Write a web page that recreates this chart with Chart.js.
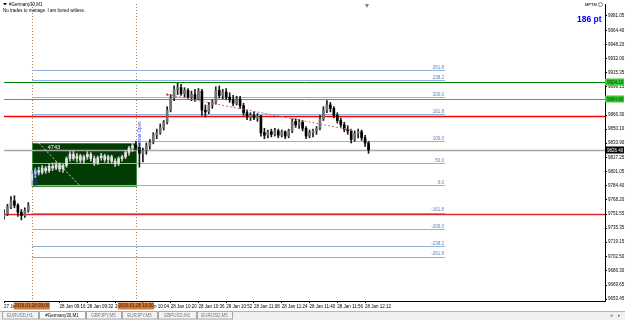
<!DOCTYPE html>
<html>
<head>
<meta charset="utf-8">
<script src="https://cdn.jsdelivr.net/npm/chart.js@4.4.0/dist/chart.umd.min.js"></script>
<style>
  html, body { margin: 0; padding: 0; background: #fff; }
  canvas { display: block; }
</style>
</head>
<body>
<canvas id="chart" width="625" height="320"></canvas>
<script>
// 2-minute candles, index 0-7 = 27 Jan evening, index 8 = 28 Jan 09:00
const candleOpen = [
  9749, 9752, 9760, 9767, 9762, 9754, 9750, 9756,
  9791, 9798, 9802, 9800, 9805, 9802, 9807, 9805, 9809, 9804,
  9808, 9816, 9821, 9816, 9819, 9814, 9818, 9821, 9816, 9811,
  9817, 9819, 9815, 9818, 9813, 9810, 9816, 9818, 9823, 9828,
  9831, 9829, 9822, 9825, 9831, 9835, 9843, 9846, 9852, 9858,
  9872, 9886, 9896, 9898, 9891, 9895, 9887, 9890, 9885, 9894,
  9872, 9870, 9878, 9881, 9895, 9889, 9893, 9887, 9884, 9880,
  9885, 9877, 9869, 9864, 9866, 9863, 9865, 9846, 9843, 9847,
  9844, 9848, 9843, 9847, 9842, 9848, 9859, 9855, 9858, 9851,
  9842, 9846, 9848, 9851, 9862, 9872, 9878, 9874, 9866, 9860,
  9855, 9850, 9848, 9838, 9845, 9847, 9840, 9834
];
const candleHigh = [
  9757, 9763, 9772, 9773, 9764, 9757, 9759, 9765,
  9802, 9805, 9806, 9808, 9807, 9810, 9811, 9812, 9811, 9810,
  9818, 9824, 9825, 9822, 9821, 9820, 9824, 9823, 9819, 9819,
  9822, 9821, 9820, 9820, 9816, 9818, 9820, 9825, 9830, 9834,
  9836, 9834, 9828, 9834, 9838, 9846, 9850, 9856, 9860, 9876,
  9890, 9900, 9903, 9902, 9898, 9897, 9894, 9896, 9897, 9896,
  9878, 9881, 9884, 9899, 9900, 9896, 9897, 9892, 9889, 9888,
  9888, 9880, 9872, 9869, 9870, 9868, 9866, 9851, 9849, 9850,
  9851, 9850, 9849, 9848, 9850, 9862, 9862, 9861, 9860, 9853,
  9849, 9850, 9853, 9866, 9876, 9883, 9881, 9876, 9869, 9863,
  9858, 9854, 9850, 9848, 9850, 9849, 9843, 9836
];
const candleLow = [
  9746, 9750, 9758, 9759, 9749, 9745, 9748, 9754,
  9784, 9794, 9797, 9798, 9799, 9800, 9802, 9803, 9801, 9800,
  9806, 9813, 9814, 9812, 9811, 9810, 9815, 9813, 9808, 9809,
  9814, 9812, 9811, 9810, 9807, 9808, 9813, 9816, 9820, 9824,
  9826, 9806, 9812, 9821, 9827, 9833, 9839, 9844, 9849, 9856,
  9870, 9883, 9890, 9889, 9887, 9885, 9883, 9882, 9884, 9866,
  9864, 9868, 9874, 9879, 9886, 9885, 9884, 9881, 9877, 9878,
  9874, 9866, 9861, 9860, 9861, 9859, 9842, 9839, 9840, 9841,
  9842, 9840, 9841, 9839, 9840, 9846, 9852, 9851, 9848, 9839,
  9840, 9841, 9844, 9849, 9860, 9869, 9870, 9863, 9857, 9852,
  9847, 9844, 9834, 9836, 9840, 9837, 9830, 9822
];
const candleClose = [
  9752, 9760, 9767, 9762, 9754, 9750, 9756, 9762,
  9798, 9802, 9800, 9805, 9802, 9807, 9805, 9809, 9804, 9808,
  9816, 9821, 9816, 9819, 9814, 9818, 9821, 9816, 9811, 9817,
  9819, 9815, 9818, 9813, 9810, 9816, 9818, 9823, 9828, 9831,
  9829, 9822, 9825, 9831, 9835, 9843, 9846, 9852, 9858, 9872,
  9886, 9896, 9898, 9891, 9895, 9887, 9890, 9885, 9894, 9872,
  9870, 9878, 9881, 9895, 9889, 9893, 9887, 9884, 9880, 9885,
  9877, 9869, 9864, 9866, 9863, 9865, 9846, 9843, 9847, 9844,
  9848, 9843, 9847, 9842, 9848, 9859, 9855, 9858, 9851, 9842,
  9846, 9848, 9851, 9862, 9872, 9878, 9874, 9866, 9860, 9855,
  9850, 9848, 9838, 9845, 9847, 9840, 9834, 9826
];

const xTickIdx = [0, 16, 24, 32, 40, 48, 56, 64, 72, 80, 88, 96, 104];
const xTickText = ['27 Jan 21:44', '28 Jan 09:16', '28 Jan 09:32', '28 Jan 09:48', '28 Jan 10:04',
  '28 Jan 10:20', '28 Jan 10:36', '28 Jan 10:52', '28 Jan 11:08', '28 Jan 11:24',
  '28 Jan 11:40', '28 Jan 11:56', '28 Jan 12:12'];
const yTickValues = [9981.05, 9964.40, 9948.20, 9932.00, 9915.35, 9899.15, 9882.95, 9866.30,
  9850.10, 9833.90, 9817.25, 9801.05, 9784.40, 9768.20, 9751.55, 9735.35, 9719.15,
  9702.50, 9686.30, 9669.65, 9653.45];

const fibPrices = [9918.5, 9906.5, 9887, 9867.5, 9836, 9810.5, 9785, 9753.5, 9734, 9714.5, 9702.5];
const fibLabels = ['261.8', '238.2', '200.0', '161.8', '100.0', '50.0', '0.0', '-161.8', '-200.0', '-238.2', '-261.8'];
const fibFrom = 8, fibTo = 127;

const levelPrices = [9904.1, 9884.8, 9865.35, 9751.95, 9826.4];
const levelColors = ['#008000', '#19c819', '#ff0000', '#e02828', '#a6a6a6'];
const levelWidths = [1, 1, 1.5, 1.5, 1.5];

const tagPrices = [9904.1, 9884.8, 9826.4];
const tagColors = ['#33cc33', '#33cc33', '#000000'];

const sessionIdx = [8, 38];
const sessionText = ['2016.01.28 09:00', '2016.01.28 10:00'];
const sessionNames = ['EU Open', 'German Open'];

const boxFrom = 8, boxTo = 38, boxTop = 9834, boxBottom = 9784, boxText = '4743';
const trendLine = [{ x: 47, y: 9890 }, { x: 100, y: 9849 }];
const boxDiagonal = [{ x: 10, y: 9834 }, { x: 22, y: 9784 }];

const tabNames = ['EURUSD,H1', '#Germany30,M1', 'GBPJPY,M5', 'EURJPY,M5', 'GBPUSD,M1', 'EURUSD,M5'];

const FONT = 'Liberation Sans';
Chart.defaults.font.family = FONT;
const inBox = i => i >= boxFrom && i < boxTo;

const decor = {
  id: 'decor',
  beforeDatasetsDraw(chart) {
    const { ctx, chartArea: a, scales: { x, y } } = chart;
    const X = v => x.getPixelForValue(v);
    const Y = v => Math.round(y.getPixelForValue(v)) + 0.5;
    ctx.save();
    ctx.beginPath();
    ctx.rect(a.left, a.top, a.right - a.left, a.bottom - a.top);
    ctx.clip();
    // session separators
    ctx.lineWidth = 1;
    ctx.strokeStyle = '#b9825a';
    ctx.setLineDash([1, 2]);
    sessionIdx.forEach(i => {
      const px = Math.round(X(i)) + 0.5;
      ctx.beginPath(); ctx.moveTo(px, a.top); ctx.lineTo(px, a.bottom); ctx.stroke();
    });
    ctx.setLineDash([]);
    // opening range box
    const bx0 = Math.round(X(boxFrom)), bx1 = Math.round(X(boxTo));
    const by0 = Math.round(y.getPixelForValue(boxTop)), by1 = Math.round(y.getPixelForValue(boxBottom));
    ctx.fillStyle = '#033d03';
    ctx.fillRect(bx0, by0, bx1 - bx0, by1 - by0);
    ctx.strokeStyle = '#3c8a3c';
    ctx.strokeRect(bx0 + 0.5, by0 + 0.5, bx1 - bx0, by1 - by0);
    // fibo levels
    ctx.strokeStyle = '#8fb4de';
    fibPrices.forEach(p => {
      const py = Y(p);
      ctx.beginPath(); ctx.moveTo(X(fibFrom), py); ctx.lineTo(X(fibTo), py); ctx.stroke();
    });
    // horizontal lines
    levelPrices.forEach((p, k) => {
      ctx.strokeStyle = levelColors[k];
      ctx.lineWidth = levelWidths[k];
      const py = Y(p);
      ctx.beginPath(); ctx.moveTo(a.left, py); ctx.lineTo(a.right, py); ctx.stroke();
    });
    ctx.restore();
  },
  afterDraw(chart) {
    const { ctx, chartArea: a, scales: { x, y } } = chart;
    const X = v => x.getPixelForValue(v);
    const W = chart.width, H = chart.height;
    ctx.save();
    ctx.textBaseline = 'middle';
    // fibo labels
    ctx.font = `4.5px "${FONT}"`;
    ctx.fillStyle = '#5b7fb8';
    ctx.textAlign = 'right';
    fibPrices.forEach((p, k) => {
      ctx.fillText(fibLabels[k], X(fibTo) - 1, y.getPixelForValue(p) - 2.5);
    });
    // box label
    ctx.textAlign = 'left';
    ctx.fillStyle = '#ffffff';
    ctx.font = `5.5px "${FONT}"`;
    ctx.fillText(boxText, X(boxFrom) + 16, y.getPixelForValue(boxTop) + 4);
    // rotated session names
    ctx.fillStyle = '#2f4fff';
    ctx.font = `4.5px "${FONT}"`;
    [[0, 186], [1, 150]].forEach(([k, py]) => {
      ctx.save();
      ctx.translate(X(sessionIdx[k]) + 3.5, py);
      ctx.rotate(-Math.PI / 2);
      ctx.textAlign = 'left';
      ctx.fillText(sessionNames[k], 0, 0);
      ctx.restore();
    });
    // chart title / comment
    ctx.fillStyle = '#000';
    ctx.beginPath(); ctx.moveTo(3, 3); ctx.lineTo(7, 3); ctx.lineTo(5, 5.5); ctx.closePath(); ctx.fill();
    ctx.font = `4.5px "${FONT}"`;
    ctx.fillText('#Germany30,M1', 9, 4.5);
    ctx.fillText('No trades to manage. I am bored witless.', 3, 10.5);
    // top right
    ctx.font = `bold 4px "${FONT}"`;
    ctx.fillStyle = '#444';
    ctx.fillText('MPTM', 585, 4.5);
    ctx.strokeStyle = '#666';
    ctx.lineWidth = 0.8;
    ctx.beginPath(); ctx.arc(600.5, 4.5, 2, 0, Math.PI * 2); ctx.stroke();
    ctx.fillStyle = '#0000ff';
    ctx.font = `bold 8.5px "${FONT}"`;
    ctx.fillText('186 pt', 577, 20);
    // chart shift marker
    ctx.fillStyle = '#808080';
    const sx = Math.round(X(104.5));
    ctx.beginPath(); ctx.moveTo(sx - 2, a.top); ctx.lineTo(sx + 2, a.top); ctx.lineTo(sx, a.top + 4); ctx.closePath(); ctx.fill();
    // price tags on axis
    ctx.font = `4.5px "${FONT}"`;
    tagPrices.forEach((p, k) => {
      const py = Math.round(y.getPixelForValue(p));
      ctx.fillStyle = tagColors[k];
      ctx.fillRect(a.right, py - 3.5, 19, 7);
      ctx.fillStyle = k === 2 ? '#fff' : '#0a3a0a';
      ctx.fillText(p.toFixed(2), a.right + 2, py + 0.5);
    });
    // session time tags on x axis
    ctx.font = `4.5px "${FONT}"`;
    ctx.textAlign = 'center';
    sessionIdx.forEach((i, k) => {
      const cx = X(i);
      ctx.fillStyle = '#d07a38';
      ctx.fillRect(cx - 18, a.bottom + 1.5, 36, 7);
      ctx.fillStyle = '#3a1800';
      ctx.fillText(sessionText[k], cx, a.bottom + 5);
    });
    // symbol tabs
    const ty = H - 9;
    ctx.fillStyle = '#f0f0f0';
    ctx.fillRect(0, ty, W, 9);
    ctx.fillStyle = '#b4b4b4';
    ctx.fillRect(0, ty, W, 1);
    const tabX = [2, 39, 86, 122, 158, 197], tabW = [36, 46, 35, 35, 38, 35];
    ctx.font = `4.5px "${FONT}"`;
    tabNames.forEach((t, k) => {
      ctx.fillStyle = k === 1 ? '#ffffff' : '#f4f4f4';
      ctx.fillRect(tabX[k], ty, tabW[k], 8);
      ctx.strokeStyle = '#a8a8a8';
      ctx.lineWidth = 1;
      ctx.strokeRect(tabX[k] + 0.5, ty + 0.5, tabW[k], 7.5);
      ctx.fillStyle = k === 1 ? '#000' : '#777';
      ctx.fillText(t, tabX[k] + tabW[k] / 2, ty + 4.5);
    });
    ctx.fillStyle = '#777';
    ctx.fillText('\u25C2', 611, ty + 4.5);
    ctx.fillText('\u25B8', 619, ty + 4.5);
    ctx.restore();
  }
};

const wickColor = c => inBox(c.dataIndex) ? '#c8c8c8' : '#1a1a1a';
const bodyColor = c => {
  const i = c.dataIndex;
  if (inBox(i)) return '#e4e4e4';
  return candleClose[i] >= candleOpen[i] ? '#707070' : '#000000';
};
const noPad = s => { s.paddingTop = 0; s.paddingBottom = 0; s.paddingLeft = 0; s.paddingRight = 0; };

new Chart(document.getElementById('chart'), {
  type: 'bar',
  data: {
    datasets: [
      {
        type: 'line',
        data: trendLine,
        borderColor: '#c46a6a',
        borderWidth: 1,
        borderDash: [2, 2],
        pointRadius: 1.3,
        pointStyle: 'rect',
        pointBackgroundColor: ['#d01818', '#d040c0'],
        pointBorderWidth: 0,
        order: 1
      },
      {
        type: 'line',
        data: boxDiagonal,
        borderColor: '#d8d8d8',
        borderWidth: 1,
        borderDash: [2, 2],
        pointRadius: 0,
        order: 1
      },
      {
        data: candleClose.map((c, i) => ({ x: i, y: [candleOpen[i], c] })),
        backgroundColor: bodyColor,
        barThickness: 2,
        minBarLength: 1,
        grouped: false,
        order: 2
      },
      {
        data: candleHigh.map((h, i) => ({ x: i, y: [candleLow[i], h] })),
        backgroundColor: wickColor,
        barThickness: 1,
        grouped: false,
        order: 3
      }
    ]
  },
  options: {
    responsive: false,
    animation: false,
    devicePixelRatio: 1,
    events: [],
    layout: { padding: { left: 1, top: 1, right: 0, bottom: 9 } },
    plugins: { legend: { display: false }, tooltip: { enabled: false } },
    scales: {
      x: {
        type: 'linear',
        min: 0,
        max: 173.1,
        offset: false,
        afterBuildTicks: s => { s.ticks = xTickIdx.map(v => ({ value: v })); },
        afterFit: s => { s.height = 10; noPad(s); },
        ticks: {
          autoSkip: false,
          maxRotation: 0,
          align: 'start',
          padding: 1,
          color: '#000',
          font: { size: 4.5 },
          callback: (v, i) => xTickText[i]
        },
        grid: { drawOnChartArea: false, offset: false, tickLength: 2, color: '#000' },
        border: { display: true, color: '#000' }
      },
      y: {
        position: 'right',
        min: 9651.2,
        max: 9994.8,
        afterBuildTicks: s => { s.ticks = yTickValues.map(v => ({ value: v })); },
        afterFit: s => { s.width = 20; noPad(s); },
        ticks: {
          padding: 1,
          color: '#000',
          font: { size: 4.5 },
          callback: v => v.toFixed(2)
        },
        grid: { drawOnChartArea: false, tickLength: 2, color: '#000' },
        border: { display: true, color: '#000' }
      }
    }
  },
  plugins: [decor]
});
</script>
</body>
</html>
